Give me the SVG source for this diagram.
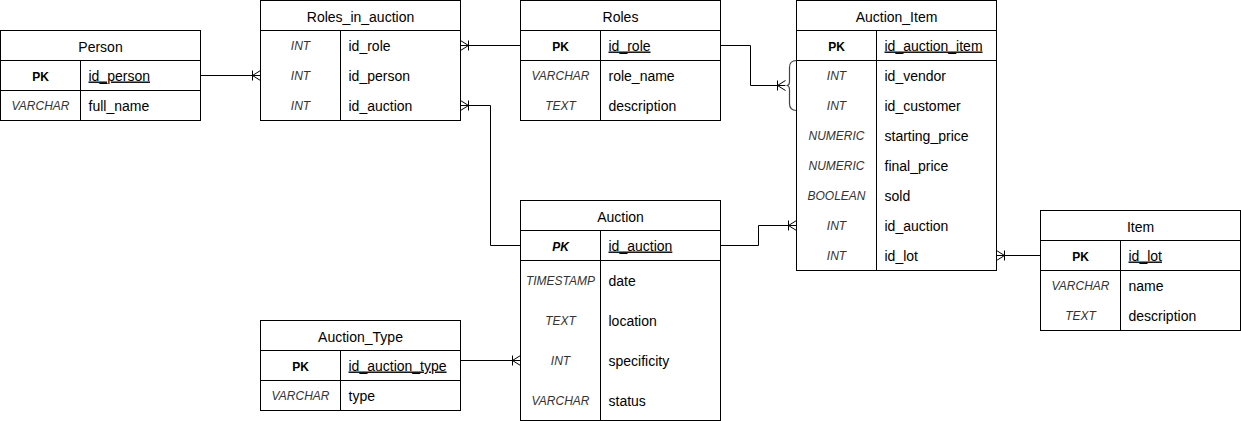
<svg xmlns="http://www.w3.org/2000/svg" width="1241" height="421" viewBox="0 0 1241 421">
<style>
.box{fill:#fff;stroke:#000;stroke-width:1}
.ln{stroke:#000;stroke-width:1;fill:none}
.title{font-family:"Liberation Sans",Arial,sans-serif;font-size:14px;fill:#000;text-anchor:middle}
.nm{font-family:"Liberation Sans",Arial,sans-serif;font-size:14px;fill:#000}
.pkn{text-decoration:underline}
.ty{font-family:"Liberation Sans",Arial,sans-serif;font-size:12px;font-style:italic;fill:#333;text-anchor:middle}
.pk{font-family:"Liberation Sans",Arial,sans-serif;font-size:12px;font-weight:bold;fill:#000;text-anchor:middle}
.edge{stroke:#000;stroke-width:1;fill:none;marker-end:url(#crow)}
</style>
<defs>
<marker id="crow" viewBox="-10 -7 12 14" refX="0" refY="0" markerWidth="12" markerHeight="14" markerUnits="userSpaceOnUse" orient="auto">
<path d="M0,-5 L-8,0 L0,5 M-8,-5 L-8,5" fill="none" stroke="#000" stroke-width="1"/>
</marker>
</defs>
<g transform="translate(0.5,0.5)">
<g id="connectors">
<path class="edge" d="M200,75 L260,75"/>
<path class="edge" d="M520,45 L460,45"/>
<path class="edge" d="M520,245 L490,245 L490,105 L460,105"/>
<path class="edge" d="M720,45 L750,45 L750,85 L785,85"/>
<path d="M796,60 Q789,60 789,67 L789,81 Q789,85 786,85 Q789,85 789,89 L789,103 Q789,110 796,110" fill="none" stroke="#444" stroke-width="1.2"/>
<path class="edge" d="M720,245 L758,245 L758,225 L796,225"/>
<path class="edge" d="M1040,255 L996,255"/>
<path class="edge" d="M460,360 L520,360"/>
</g>
<g id="person">
<rect class="box" x="0" y="30" width="200" height="90"/>
<path class="ln" d="M0,60 H200 M0,90 H200 M80,60 V120"/>
<text class="title" x="100" y="51">Person</text>
<text class="pk" x="40" y="80">PK</text>
<text class="nm pkn" x="88" y="80">id_person</text>
<text class="ty" x="40" y="109">VARCHAR</text>
<text class="nm" x="88" y="110">full_name</text>
</g>
<g id="roles_in_auction">
<rect class="box" x="260" y="0" width="200" height="120"/>
<path class="ln" d="M260,30 H460 M340,30 V120"/>
<text class="title" x="360" y="21">Roles_in_auction</text>
<text class="ty" x="300" y="49">INT</text>
<text class="nm" x="348" y="50">id_role</text>
<text class="ty" x="300" y="79">INT</text>
<text class="nm" x="348" y="80">id_person</text>
<text class="ty" x="300" y="109">INT</text>
<text class="nm" x="348" y="110">id_auction</text>
</g>
<g id="roles">
<rect class="box" x="520" y="0" width="200" height="120"/>
<path class="ln" d="M520,30 H720 M520,60 H720 M600,30 V120"/>
<text class="title" x="620" y="21">Roles</text>
<text class="pk" x="560" y="50">PK</text>
<text class="nm pkn" x="608" y="50">id_role</text>
<text class="ty" x="560" y="79">VARCHAR</text>
<text class="nm" x="608" y="80">role_name</text>
<text class="ty" x="560" y="109">TEXT</text>
<text class="nm" x="608" y="110">description</text>
</g>
<g id="auction_item">
<rect class="box" x="796" y="0" width="200" height="270"/>
<path class="ln" d="M796,30 H996 M796,60 H996 M876,30 V270"/>
<text class="title" x="896" y="21">Auction_Item</text>
<text class="pk" x="836" y="50">PK</text>
<text class="nm pkn" x="884" y="50">id_auction_item</text>
<text class="ty" x="836" y="79">INT</text>
<text class="nm" x="884" y="80">id_vendor</text>
<text class="ty" x="836" y="109">INT</text>
<text class="nm" x="884" y="110">id_customer</text>
<text class="ty" x="836" y="139">NUMERIC</text>
<text class="nm" x="884" y="140">starting_price</text>
<text class="ty" x="836" y="169">NUMERIC</text>
<text class="nm" x="884" y="170">final_price</text>
<text class="ty" x="836" y="199">BOOLEAN</text>
<text class="nm" x="884" y="200">sold</text>
<text class="ty" x="836" y="229">INT</text>
<text class="nm" x="884" y="230">id_auction</text>
<text class="ty" x="836" y="259">INT</text>
<text class="nm" x="884" y="260">id_lot</text>
</g>
<g id="item">
<rect class="box" x="1040" y="210" width="200" height="120"/>
<path class="ln" d="M1040,240 H1240 M1040,270 H1240 M1120,240 V330"/>
<text class="title" x="1140" y="231">Item</text>
<text class="pk" x="1080" y="260">PK</text>
<text class="nm pkn" x="1128" y="260">id_lot</text>
<text class="ty" x="1080" y="289">VARCHAR</text>
<text class="nm" x="1128" y="290">name</text>
<text class="ty" x="1080" y="319">TEXT</text>
<text class="nm" x="1128" y="320">description</text>
</g>
<g id="auction">
<rect class="box" x="520" y="200" width="200" height="220"/>
<path class="ln" d="M520,230 H720 M520,260 H720 M600,230 V420"/>
<text class="title" x="620" y="221">Auction</text>
<text class="pk" x="560" y="250" font-style="italic">PK</text>
<text class="nm pkn" x="608" y="250">id_auction</text>
<text class="ty" x="560" y="284">TIMESTAMP</text>
<text class="nm" x="608" y="285">date</text>
<text class="ty" x="560" y="324">TEXT</text>
<text class="nm" x="608" y="325">location</text>
<text class="ty" x="560" y="364">INT</text>
<text class="nm" x="608" y="365">specificity</text>
<text class="ty" x="560" y="404">VARCHAR</text>
<text class="nm" x="608" y="405">status</text>
</g>
<g id="auction_type">
<rect class="box" x="260" y="320" width="200" height="90"/>
<path class="ln" d="M260,350 H460 M260,380 H460 M340,350 V410"/>
<text class="title" x="360" y="341">Auction_Type</text>
<text class="pk" x="300" y="370">PK</text>
<text class="nm pkn" x="348" y="370">id_auction_type</text>
<text class="ty" x="300" y="399">VARCHAR</text>
<text class="nm" x="348" y="400">type</text>
</g>
</g>
</svg>
